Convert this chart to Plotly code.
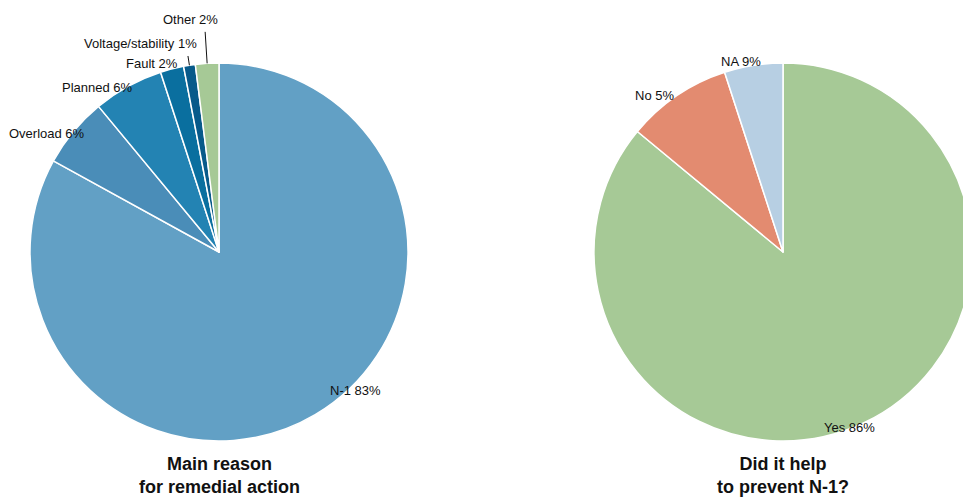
import math
import plotly.graph_objects as go

# Left pie: main reason for remedial action
reason_labels = ["N-1", "Overload", "Planned", "Fault", "Voltage/stability", "Other"]
reason_values = [83, 6, 6, 2, 1, 2]
reason_text = ["N-1 83%", "Overload 6%", "Planned 6%", "Fault 2%", "Voltage/stability 1%", "Other 2%"]
reason_colors = ["#62a0c5", "#4a8db8", "#2383b3", "#0a6f9f", "#075a8a", "#a6c996"]

# Right pie: did it help to prevent N-1?
help_labels = ["Yes", "No", "NA"]
help_values = [86, 9, 5]
help_text = ["Yes 86%", "No 5%", "NA 9%"]
help_colors = ["#a6c996", "#e38b70", "#b7cfe3"]

# label placement style: (angle offset from slice middle in degrees, radius factor)
reason_label_pos = [(-14, 1.027), (-4.9, 1.106), (-7.5, 1.083), (-5.2, 1.056), (-11.6, 1.176), (-3.5, 1.237)]
reason_leader = [None, None, None, None, 1.05, 1.167]
help_label_pos = [(4.4, 0.996), (-5.2, 1.069), (-3.5, 1.03)]
help_leader = [None, None, None]

W, H = 981, 497   # figure is slightly wider than the 963px window (right pie is cut)
R = 189
LC = (219, 252)
RC = (783, 252)
FONT = "Liberation Sans, Arial"

def dom(c):
    cx, cy = c
    return dict(x=[(cx - R) / W, (cx + R) / W],
                y=[(H - cy - R) / H, (H - cy + R) / H])

def pt(c, ang, rf):
    a = math.radians(ang)
    return c[0] + rf * R * math.sin(a), c[1] - rf * R * math.cos(a)

fig = go.Figure()
annots = []
shapes = []

def add_pie(labels, values, texts, colors, c, lpos, leaders):
    fig.add_trace(go.Pie(
        labels=labels, values=values, textinfo="none", sort=False,
        direction="clockwise", rotation=0,
        marker=dict(colors=colors, line=dict(color="white", width=1.5)),
        domain=dom(c), showlegend=False, hoverinfo="label+percent"))
    total = sum(values)
    cum = 0
    for v, t, (da, rf), ld in zip(values, texts, lpos, leaders):
        mid = (cum + v / 2) / total * 360
        cum += v
        x, y = pt(c, mid + da, rf)
        annots.append(dict(x=x / W, y=(H - y) / H, xref="paper", yref="paper",
                           text=t, showarrow=False, xanchor="center", yanchor="middle",
                           font=dict(family=FONT, size=13, color="#111")))
        if ld:
            x0, y0 = pt(c, mid, 1.0)
            x1, y1 = pt(c, mid, ld)
            shapes.append(dict(type="line", xref="paper", yref="paper",
                               x0=x0 / W, y0=(H - y0) / H, x1=x1 / W, y1=(H - y1) / H,
                               line=dict(color="#111", width=1)))

add_pie(reason_labels, reason_values, reason_text, reason_colors, LC, reason_label_pos, reason_leader)
add_pie(help_labels, help_values, help_text, help_colors, RC, help_label_pos, help_leader)

for c, t in [(LC, "<b>Main reason<br>for remedial action</b>"),
             (RC, "<b>Did it help<br>to prevent N-1?</b>")]:
    annots.append(dict(x=c[0] / W, y=(H - 475) / H, xref="paper", yref="paper",
                       text=t, showarrow=False, xanchor="center", yanchor="middle",
                       font=dict(family=FONT, size=18, color="#111")))

fig.update_layout(width=W, height=H, margin=dict(l=0, r=0, t=0, b=0),
                  paper_bgcolor="white", plot_bgcolor="white",
                  annotations=annots, shapes=shapes)
fig.write_html("out.html", config={"displayModeBar": False},
               post_script="document.body.style.margin='0';document.body.style.overflow='hidden';")
